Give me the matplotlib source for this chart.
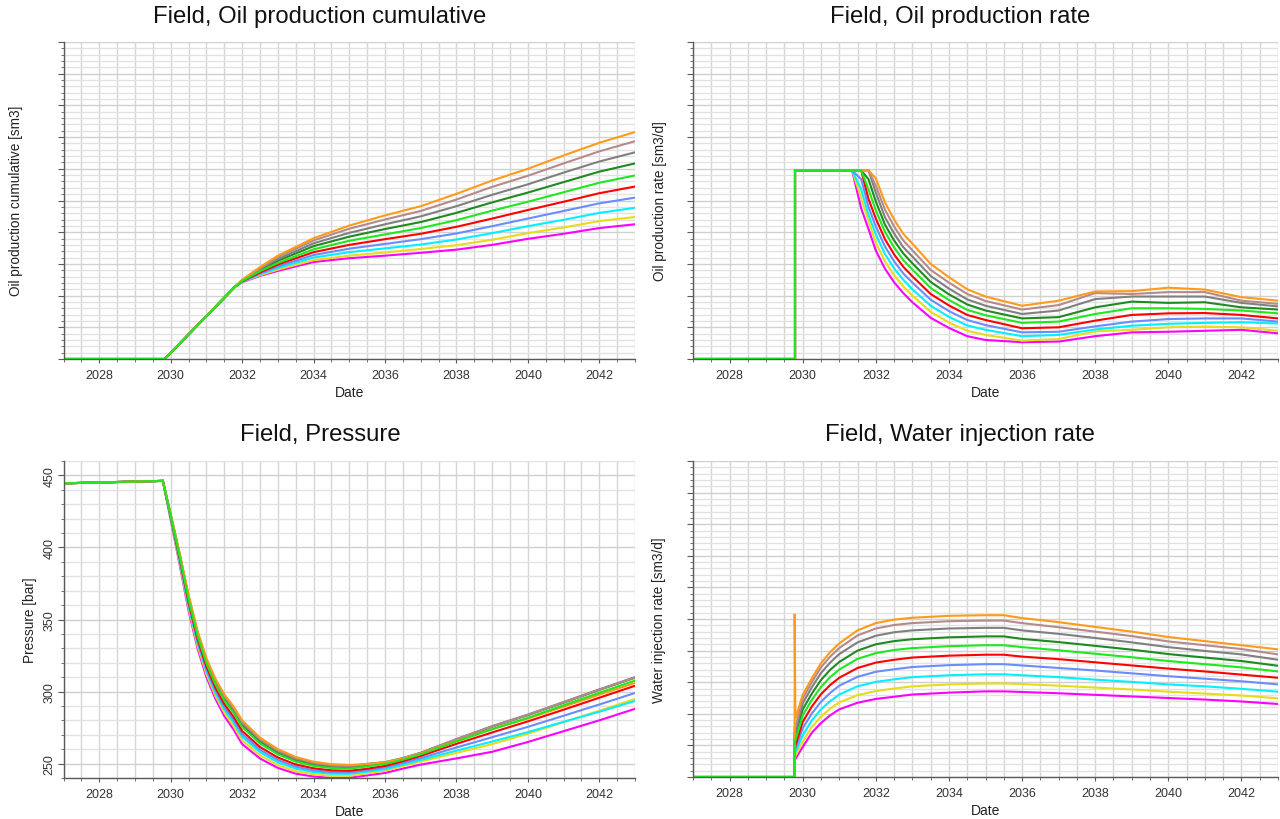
import numpy as np
import matplotlib
matplotlib.use("Agg")
import matplotlib.pyplot as plt
from matplotlib.ticker import MultipleLocator

plt.rcParams['font.family'] = ['Liberation Sans', 'DejaVu Sans']

# series order: magenta, yellow, cyan, blue, red, green, dark green, gray, brown, orange
colors = ['#ff00ff', '#e6dc1a', '#00f0ff', '#6a8cff', '#ff0000',
          '#1ee81e', '#1f8a1f', '#808080', '#b58a8a', '#ff9a1a']
draw_order = [0, 1, 2, 3, 4, 6, 7, 8, 9, 5]  # bright green on top

# ---- Field, Oil production cumulative ----
cum_years = [2027, 2029.83, 2031.8, 2032.0, 2032.5, 2033, 2034, 2035, 2036, 2037,
             2038, 2039, 2040, 2041, 2042, 2043]
cum_values = [
    [0, 0, 2.28, 2.42, 2.62, 2.78, 3.06, 3.18, 3.26, 3.35, 3.45, 3.6, 3.79, 3.95, 4.13, 4.25],
    [0, 0, 2.28, 2.43, 2.64, 2.82, 3.12, 3.26, 3.36, 3.47, 3.59, 3.76, 3.97, 4.15, 4.35, 4.48],
    [0, 0, 2.28, 2.43, 2.67, 2.87, 3.2, 3.37, 3.49, 3.61, 3.77, 3.97, 4.19, 4.39, 4.61, 4.77],
    [0, 0, 2.28, 2.44, 2.7, 2.92, 3.28, 3.48, 3.63, 3.78, 3.96, 4.19, 4.43, 4.67, 4.91, 5.09],
    [0, 0, 2.28, 2.45, 2.73, 2.98, 3.37, 3.6, 3.78, 3.95, 4.17, 4.43, 4.7, 4.96, 5.23, 5.44],
    [0, 0, 2.28, 2.46, 2.77, 3.03, 3.46, 3.73, 3.93, 4.13, 4.38, 4.68, 4.96, 5.26, 5.56, 5.79],
    [0, 0, 2.28, 2.47, 2.8, 3.1, 3.56, 3.86, 4.1, 4.32, 4.61, 4.94, 5.25, 5.58, 5.91, 6.17],
    [0, 0, 2.28, 2.48, 2.84, 3.15, 3.65, 3.98, 4.25, 4.5, 4.82, 5.18, 5.51, 5.88, 6.23, 6.52],
    [0, 0, 2.28, 2.49, 2.87, 3.21, 3.74, 4.11, 4.4, 4.67, 5.03, 5.43, 5.78, 6.17, 6.55, 6.87],
    [0, 0, 2.28, 2.5, 2.9, 3.26, 3.81, 4.21, 4.53, 4.82, 5.21, 5.63, 6.0, 6.42, 6.82, 7.16],
]

# ---- Field, Oil production rate ----
rate_years = [2027, 2029.79, 2029.79, 2031.35, 2031.6, 2031.8, 2032.0, 2032.25, 2032.5,
              2032.75, 2033, 2033.5, 2034, 2034.5, 2035, 2036, 2037, 2038, 2039, 2040,
              2041, 2042, 2043]
rate_values = [
    [0, 0, 5.95, 5.95, 4.75, 4.1, 3.42, 2.85, 2.42, 2.08, 1.79, 1.3, 0.98, 0.72, 0.6, 0.53, 0.55, 0.72, 0.84, 0.86, 0.89, 0.92, 0.81],
    [0, 0, 5.95, 5.95, 5.08, 4.35, 3.67, 3.08, 2.64, 2.29, 2.0, 1.49, 1.15, 0.89, 0.76, 0.58, 0.63, 0.87, 0.92, 1.0, 1.02, 1.0, 0.89],
    [0, 0, 5.95, 5.95, 5.35, 4.55, 3.93, 3.31, 2.86, 2.5, 2.2, 1.68, 1.33, 1.06, 0.92, 0.72, 0.76, 0.93, 1.05, 1.11, 1.14, 1.16, 1.12],
    [0, 0, 5.95, 5.95, 5.67, 4.8, 4.18, 3.55, 3.08, 2.7, 2.41, 1.87, 1.51, 1.23, 1.07, 0.84, 0.86, 1.03, 1.18, 1.26, 1.28, 1.28, 1.18],
    [0, 0, 5.95, 5.95, 5.95, 5.05, 4.43, 3.78, 3.3, 2.91, 2.61, 2.05, 1.69, 1.39, 1.23, 0.97, 1.0, 1.21, 1.39, 1.44, 1.45, 1.39, 1.28],
    [0, 0, 5.95, 5.95, 5.95, 5.35, 4.69, 4.01, 3.52, 3.12, 2.82, 2.24, 1.86, 1.55, 1.38, 1.14, 1.18, 1.42, 1.6, 1.6, 1.58, 1.53, 1.44],
    [0, 0, 5.95, 5.95, 5.95, 5.67, 4.97, 4.24, 3.74, 3.33, 3.02, 2.43, 2.04, 1.72, 1.53, 1.28, 1.32, 1.63, 1.81, 1.77, 1.79, 1.63, 1.56],
    [0, 0, 5.95, 5.95, 5.95, 5.95, 5.25, 4.47, 3.96, 3.53, 3.23, 2.62, 2.22, 1.88, 1.68, 1.42, 1.53, 1.89, 1.97, 1.97, 1.97, 1.77, 1.66],
    [0, 0, 5.95, 5.95, 5.95, 5.95, 5.47, 4.71, 4.18, 3.74, 3.43, 2.81, 2.41, 2.05, 1.83, 1.56, 1.7, 2.08, 2.05, 2.11, 2.11, 1.84, 1.74],
    [0, 0, 5.95, 5.95, 5.95, 5.95, 5.7, 4.94, 4.4, 3.95, 3.64, 3.0, 2.58, 2.2, 1.97, 1.68, 1.84, 2.13, 2.14, 2.25, 2.19, 1.95, 1.84],
]

# ---- Field, Pressure [bar] ----
pres_years = [2027, 2029.78, 2030.0, 2030.25, 2030.5, 2030.75, 2031.0, 2031.25, 2031.5,
              2031.75, 2032.0, 2032.5, 2033.0, 2033.5, 2034.0, 2034.5, 2035.0, 2035.5,
              2036.0, 2036.5, 2037, 2038, 2039, 2040, 2041, 2042, 2043]
pres_values = [
    [444.5, 446.2, 419, 388, 356, 330, 310, 295, 283, 274, 263.5, 253.5, 247, 243, 241, 240.1, 240.2, 241.8, 243.5, 246.5, 249.3, 253.6, 258.2, 265, 272.5, 280, 288],
    [444.5, 446.2, 419.6, 389.2, 357.7, 331.8, 312, 297.1, 285.3, 276.4, 266, 255.7, 249, 244.7, 242.6, 241.5, 241.5, 243.2, 245, 248.2, 251.4, 257.4, 263.5, 270.7, 278.8, 286.7, 294.8],
    [444.5, 446.2, 420.2, 390.4, 359.3, 333.6, 313.9, 299.2, 287.5, 278.8, 268.5, 257.9, 250.9, 246.5, 244.1, 243, 242.9, 244.4, 246.1, 249.2, 252.5, 259, 265.3, 271.8, 279, 286, 293.5],
    [444.5, 446.2, 420.7, 391.4, 360.6, 335, 315.5, 300.9, 289.3, 280.7, 270.4, 259.6, 252.5, 247.9, 245.3, 244.1, 243.9, 245.4, 247.3, 250.4, 253.8, 261.2, 268.3, 275.5, 283.2, 291, 299],
    [444.5, 446.2, 421.2, 392.4, 362, 336.6, 317.2, 302.7, 291.3, 282.8, 272.6, 261.5, 254.2, 249.4, 246.7, 245.3, 245, 246.4, 248.4, 251.6, 255.3, 263.7, 271.6, 279.3, 287.4, 295.7, 304],
    [444.5, 446.2, 421.9, 393.8, 363.9, 338.6, 319.4, 305.1, 293.8, 285.5, 275.4, 263.9, 256.4, 251.4, 248.4, 246.9, 246.5, 248, 249.7, 252.7, 256.4, 265.4, 273.9, 281.7, 290.5, 299.1, 307.6],
    [444.5, 446.2, 422.3, 394.6, 365, 339.8, 320.7, 306.5, 295.3, 287.1, 277, 265.4, 257.7, 252.5, 249.4, 247.9, 247.4, 249, 250.6, 253.5, 257.3, 266.7, 275.6, 283.6, 292.3, 301.1, 309.6],
    [444.5, 446.2, 422.5, 395, 365.7, 340.6, 321.4, 307.3, 296.2, 288.1, 278, 266.3, 258.4, 253.2, 250.1, 248.5, 247.9, 249.8, 251, 253.8, 257.5, 267, 276, 284, 292.7, 301.5, 310],
    [444.5, 446.2, 422.8, 395.5, 366.3, 341.3, 322.2, 308.2, 297.1, 289, 279, 267.1, 259.2, 253.9, 250.7, 249, 248.5, 249.6, 250.9, 253.8, 257.4, 266.9, 275.8, 283.8, 292.5, 301.3, 309.8],
    [444.5, 446.2, 423, 396, 367, 342, 323, 309, 298, 290, 280, 268, 260, 254.6, 251.3, 249.6, 249, 249.7, 250.8, 253.4, 256.9, 265.7, 273.9, 281.3, 289.5, 297.8, 306],
]

# ---- Field, Water injection rate ----
winj_years = [2027, 2029.78, 2029.78, 2029.8, 2030.0, 2030.25, 2030.5, 2030.75, 2031.0,
              2031.5, 2032, 2032.5, 2033, 2034, 2035, 2035.5, 2036, 2037, 2038, 2039,
              2040, 2041, 2042, 2043]
winj_values = [
    [0, 0, 0.57, 0.57, 0.95, 1.4, 1.71, 1.95, 2.14, 2.35, 2.47, 2.54, 2.61, 2.67, 2.71, 2.71, 2.69, 2.65, 2.6, 2.55, 2.5, 2.45, 2.39, 2.31],
    [0, 0, 0.67, 0.67, 1.12, 1.58, 1.91, 2.16, 2.36, 2.59, 2.72, 2.8, 2.87, 2.93, 2.96, 2.96, 2.94, 2.89, 2.83, 2.77, 2.7, 2.64, 2.58, 2.49],
    [0, 0, 0.78, 0.78, 1.32, 1.79, 2.14, 2.4, 2.61, 2.87, 3.01, 3.09, 3.16, 3.22, 3.25, 3.25, 3.22, 3.16, 3.08, 3.01, 2.93, 2.87, 2.79, 2.7],
    [0, 0, 0.89, 0.89, 1.54, 2.01, 2.38, 2.66, 2.89, 3.17, 3.33, 3.41, 3.48, 3.54, 3.57, 3.57, 3.53, 3.45, 3.37, 3.28, 3.19, 3.11, 3.03, 2.93],
    [0, 0, 0.99, 0.99, 1.74, 2.23, 2.62, 2.91, 3.14, 3.45, 3.62, 3.71, 3.78, 3.84, 3.87, 3.87, 3.81, 3.73, 3.63, 3.53, 3.43, 3.34, 3.24, 3.14],
    [0, 0, 1.15, 1.15, 1.95, 2.44, 2.85, 3.16, 3.4, 3.74, 3.92, 4.02, 4.08, 4.14, 4.17, 4.17, 4.11, 4.01, 3.9, 3.79, 3.67, 3.57, 3.47, 3.34],
    [0, 0, 1.31, 1.31, 2.14, 2.64, 3.07, 3.39, 3.64, 4.0, 4.2, 4.3, 4.36, 4.42, 4.45, 4.45, 4.37, 4.27, 4.15, 4.03, 3.89, 3.78, 3.67, 3.52],
    [0, 0, 1.41, 1.41, 2.33, 2.84, 3.29, 3.62, 3.89, 4.26, 4.47, 4.58, 4.64, 4.7, 4.72, 4.72, 4.64, 4.53, 4.4, 4.26, 4.11, 3.99, 3.88, 3.71],
    [0, 0, 1.57, 1.57, 2.48, 3.0, 3.47, 3.81, 4.08, 4.48, 4.7, 4.81, 4.87, 4.93, 4.95, 4.95, 4.87, 4.74, 4.6, 4.46, 4.29, 4.17, 4.05, 3.88],
    [0, 0, 5.16, 1.84, 2.6, 3.12, 3.6, 3.95, 4.23, 4.64, 4.87, 4.98, 5.04, 5.1, 5.12, 5.12, 5.03, 4.9, 4.75, 4.6, 4.43, 4.3, 4.17, 4.04],
]

W, H = 1280, 820
fig = plt.figure(figsize=(W / 100, H / 100), dpi=100)


def make_axes(left, top, right, bottom):
    return fig.add_axes([left / W, 1 - bottom / H, (right - left) / W, (bottom - top) / H])


def style_axes(ax, ylim, ymajor, yminor, show_ylabels=False):
    ax.set_xlim(2027, 2043)
    ax.set_ylim(*ylim)
    ax.set_xticks(np.arange(2028, 2043, 2))
    ax.xaxis.set_minor_locator(MultipleLocator(0.5))
    ax.yaxis.set_major_locator(MultipleLocator(ymajor))
    ax.yaxis.set_minor_locator(MultipleLocator(yminor))
    ax.grid(which='both', axis='x', color='#d6d6d6', lw=1.0)
    ax.grid(which='minor', axis='y', color='#e2e2e2', lw=1.0)
    ax.grid(which='major', axis='y', color='#d0d0d0', lw=1.0)
    ax.set_axisbelow(True)
    for s in ('top', 'right'):
        ax.spines[s].set_visible(False)
    for s in ('left', 'bottom'):
        ax.spines[s].set_color('#5a5a5a')
        ax.spines[s].set_linewidth(1.0)
    ax.tick_params(axis='x', which='major', direction='out', length=3, color='#5a5a5a',
                   labelsize=9, labelcolor='#333333', pad=4)
    ax.tick_params(axis='x', which='minor', direction='out', length=2.5, color='#5a5a5a')
    ax.tick_params(axis='y', which='major', direction='out', length=4, color='#5a5a5a',
                   labelsize=9, labelcolor='#333333', labelleft=show_ylabels, pad=2)
    ax.tick_params(axis='y', which='minor', direction='out', length=2, color='#5a5a5a')
    ax.set_xlabel('Date', fontsize=10, color='#222222', labelpad=3)


def draw(ax, years, values):
    for k in draw_order:
        ax.plot(years, values[k], color=colors[k], lw=1.5, solid_joinstyle='miter')


ax1 = make_axes(63.6, 43, 635, 360)
style_axes(ax1, (0, 10), 1, 0.2)
draw(ax1, cum_years, cum_values)

ax2 = make_axes(693, 43, 1278, 360)
style_axes(ax2, (0, 10), 1, 0.2)
draw(ax2, rate_years, rate_values)

ax3 = make_axes(63.6, 462, 635, 779)
style_axes(ax3, (240, 460), 50, 10, show_ylabels=True)
draw(ax3, pres_years, pres_values)
plt.setp(ax3.get_yticklabels(), rotation=90, va='center')

ax4 = make_axes(693, 462, 1278, 778)
style_axes(ax4, (0, 10), 1, 0.2)
draw(ax4, winj_years, winj_values)

title_kw = dict(ha='center', va='center', fontsize=17.2, color='#111111')
fig.text(320 / W, 1 - 17 / H, 'Field, Oil production cumulative', **title_kw)
fig.text(960 / W, 1 - 17 / H, 'Field, Oil production rate', **title_kw)
fig.text(320 / W, 1 - 435 / H, 'Field, Pressure', **title_kw)
fig.text(960 / W, 1 - 435 / H, 'Field, Water injection rate', **title_kw)

ylab_kw = dict(ha='center', va='center', rotation=90, fontsize=9.8, color='#222222')
fig.text(16 / W, 1 - 201 / H, 'Oil production cumulative [sm3]', **ylab_kw)
fig.text(660 / W, 1 - 201 / H, 'Oil production rate [sm3/d]', **ylab_kw)
fig.text(30 / W, 1 - 620 / H, 'Pressure [bar]', **ylab_kw)
fig.text(659 / W, 1 - 620 / H, 'Water injection rate [sm3/d]', **ylab_kw)

fig.savefig('out.png', dpi=100)
